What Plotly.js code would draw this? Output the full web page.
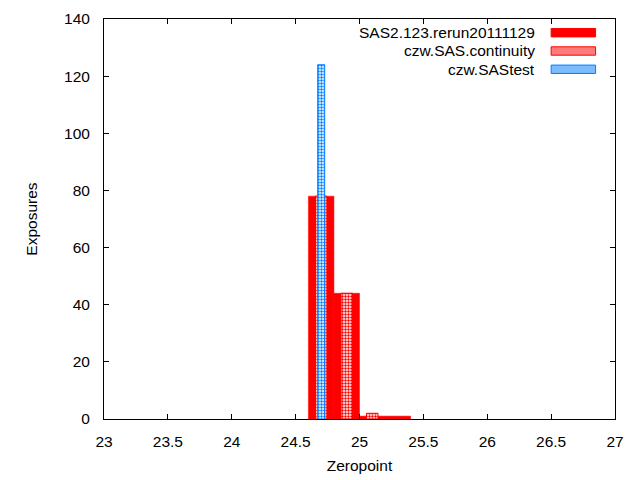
<!DOCTYPE html>
<html>
<head>
<meta charset="utf-8">
<script src="https://cdn.plot.ly/plotly-3.0.1.min.js"></script>
<style>
  html, body { margin: 0; padding: 0; background: #fff; }
  #chart { width: 640px; height: 480px; }
</style>
</head>
<body>
<div id="chart"></div>
<script>
// histogram bins (bin centres) and counts per run
var rerunNames = ['SAS2.123.rerun20111129', 'czw.SAS.continuity', 'czw.SAStest'];
var rerunBins = [24.7, 24.9, 25.1, 25.3];
var rerunCounts = [78, 44, 1, 1];
var continuityBins = [24.7, 24.9, 25.1];
var continuityCounts = [78, 44, 2];
var sastestBins = [24.7];
var sastestCounts = [124];
var xTicks = [23, 23.5, 24, 24.5, 25, 25.5, 26, 26.5, 27];
var yTicks = [0, 20, 40, 60, 80, 100, 120, 140];

var FONT = 'Liberation Sans, Arial, sans-serif';
var FS = 15.5;

var traces = [
	{
		type: 'bar', name: rerunNames[0],
		x: rerunBins, y: rerunCounts, width: 0.2,
		marker: { color: '#ff0000', line: { color: '#ff0000', width: 0.5 } }
	},
	{
		type: 'bar', name: rerunNames[1],
		x: continuityBins, y: continuityCounts, width: 0.09,
		marker: {
			color: '#ffffff',
			line: { color: '#ff0000', width: 1 },
			pattern: { shape: '.', fgcolor: '#ff0000', bgcolor: '#ffffff', size: 3, solidity: 0.5 }
		}
	},
	{
		type: 'bar', name: rerunNames[2],
		x: sastestBins, y: sastestCounts, width: 0.055,
		marker: {
			color: '#ffffff',
			line: { color: '#0080ff', width: 1 },
			pattern: { shape: '.', fgcolor: '#0080ff', bgcolor: '#ffffff', size: 3, solidity: 0.5 }
		}
	}
];

// gnuplot style key: text on the left, sample box on the right
var keyRows = [0.9658, 0.92, 0.8743];
var keyFill = ['#ff0000', '#ff7a7a', '#7abcff'];
var keyLine = ['#ff0000', '#ff0000', '#0080ff'];
var annotations = [];
var shapes = [];
for (var i = 0; i < rerunNames.length; i++) {
	annotations.push({
		xref: 'paper', yref: 'paper', x: 0.848, y: keyRows[i],
		xanchor: 'right', yanchor: 'middle', showarrow: false,
		text: rerunNames[i], font: { family: FONT, size: FS, color: '#000' }
	});
	shapes.push({
		type: 'rect', xref: 'paper', yref: 'paper',
		x0: 0.875, x1: 0.962, y0: keyRows[i] - 0.0105, y1: keyRows[i] + 0.0105,
		fillcolor: keyFill[i], line: { color: keyLine[i], width: 1 }
	});
}

var axisStyle = {
	showline: true, linecolor: '#000', linewidth: 1, mirror: 'allticks',
	ticks: 'inside', ticklen: 5, tickcolor: '#000', tickwidth: 1,
	showgrid: false, zeroline: false,
	tickfont: { family: FONT, size: FS, color: '#000' }
};

var layout = {
	width: 640, height: 480,
	margin: { l: 104, r: 25, t: 19, b: 61 },
	paper_bgcolor: '#fff', plot_bgcolor: '#fff',
	font: { family: FONT, size: FS, color: '#000' },
	barmode: 'overlay', showlegend: false,
	xaxis: Object.assign({}, axisStyle, {
		range: [23, 27], tickvals: xTicks, ticktext: xTicks.map(String),
		ticklabelstandoff: 8,
		title: { text: 'Zeropoint', font: { family: FONT, size: FS, color: '#000' }, standoff: 11 }
	}),
	yaxis: Object.assign({}, axisStyle, {
		range: [0, 140], tickvals: yTicks, ticktext: yTicks.map(String),
		ticklabelstandoff: 10,
		title: { text: 'Exposures', font: { family: FONT, size: FS, color: '#000' }, standoff: 22 }
	}),
	annotations: annotations,
	shapes: shapes
};

Plotly.newPlot('chart', traces, layout, { staticPlot: true });
</script>
</body>
</html>
